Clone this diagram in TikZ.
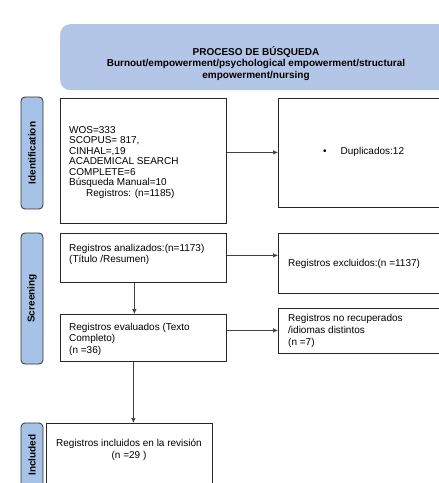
\documentclass[tikz,border=0pt]{standalone}
\usepackage{fontspec}
\setmainfont{Liberation Sans}
\usetikzlibrary{arrows.meta}
\definecolor{hdr}{HTML}{B4C6E7}
\definecolor{side}{HTML}{A6C2E6}
\begin{document}
\begin{tikzpicture}[x=1pt,y=-1pt,
  box/.style={draw=black!85, line width=0.8pt, inner sep=0, anchor=north west},
  sidelbl/.style={draw=black!80, fill=side, rounded corners=4pt, line width=0.8pt,
     minimum height=22pt, inner sep=0, rotate=90, font=\bfseries\fontsize{10}{12}\selectfont},
  txt/.style={inner sep=0, font=\fontsize{10}{11.5}\selectfont, align=left},
  arr/.style={-{Latex[length=5pt,width=4.5pt]}, draw=black!75, line width=0.6pt}]
\useasboundingbox (0,0) rectangle (439,483);
\clip (0,0) rectangle (439,483);
\fill[white] (0,0) rectangle (439,483);

% header
\node[fill=hdr, rounded corners=10pt, minimum width=400pt, minimum height=66pt,
      anchor=north west, inner sep=0] (hdr) at (60,24) {};
\node[txt, align=center, font=\bfseries\fontsize{10}{11.5}\selectfont] (htxt) at (256,63.5)
  {PROCESO DE BÚSQUEDA\\Burnout/empowerment/psychological empowerment/structural\\empowerment/nursing};

% side labels
\node[sidelbl, minimum width=112pt] (lid) at (32,153) {Identification};
\node[sidelbl, minimum width=131pt] (lsc) at (32,298.5) {Screening};
\node[sidelbl, minimum width=64pt] (lin) at (32,455) {Included};

% boxes
\node[box, minimum width=166pt, minimum height=125pt] (id) at (60,98) {};
\node[box, minimum width=182pt, minimum height=109pt] (dup) at (278,98) {};
\node[box, minimum width=166pt, minimum height=49pt] (ana) at (60,233) {};
\node[box, minimum width=182pt, minimum height=60pt] (exc) at (278,233) {};
\node[box, minimum width=166pt, minimum height=47pt] (eva) at (60,314) {};
\node[box, minimum width=182pt, minimum height=45pt] (nrec) at (278,308) {};
\node[box, minimum width=166pt, minimum height=80pt] (inc) at (46,423) {};

% texts
\node[txt, anchor=north west, font=\fontsize{10}{10.5}\selectfont] (idtxt) at (69,126)
  {WOS=333\\SCOPUS= 817,\\CINHAL=,19\\ACADEMICAL SEARCH\\COMPLETE=6\\Búsqueda Manual=10\\\hspace*{17pt}Registros: (n=1185)};
\node[txt, anchor=west] (duptxt) at (323,152) {•\hspace{14pt}Duplicados:12};
\node[txt, anchor=north west, font=\fontsize{10}{11}\selectfont] (anatxt) at (69,244)
  {Registros analizados:(n=1173)\\(Título /Resumen)};
\node[txt, anchor=west] (exctxt) at (288,264) {Registros excluidos:(n =1137)};
\node[txt, anchor=north west] (evatxt) at (69,323)
  {Registros evaluados (Texto\\Completo)\\(n =36)};
\node[txt, anchor=north west, font=\fontsize{10}{12}\selectfont] (nrectxt) at (288,314)
  {Registros no recuperados\\/idiomas distintos\\(n =7)};
\node[txt, align=center, font=\fontsize{10}{12}\selectfont] (inctxt) at (129,450)
  {Registros incluidos en la revisión\\(n =29 )};

% connectors
\coordinate (a1) at ([yshift=8.5pt]id.east);
\draw[arr] (a1) -- (a1 -| dup.west);
\coordinate (a2) at ([yshift=2.5pt]ana.east);
\draw[arr] (a2) -- (a2 -| exc.west);
\coordinate (a3) at ([yshift=7.5pt]eva.east);
\draw[arr] (a3) -- (a3 -| nrec.west);
\coordinate (a4) at ([xshift=-9pt]ana.south);
\draw[arr] (a4) -- (a4 |- eva.north);
\coordinate (a5) at ([xshift=-10pt]eva.south);
\draw[arr] (a5) -- (a5 |- inc.north);
\end{tikzpicture}
\end{document}
